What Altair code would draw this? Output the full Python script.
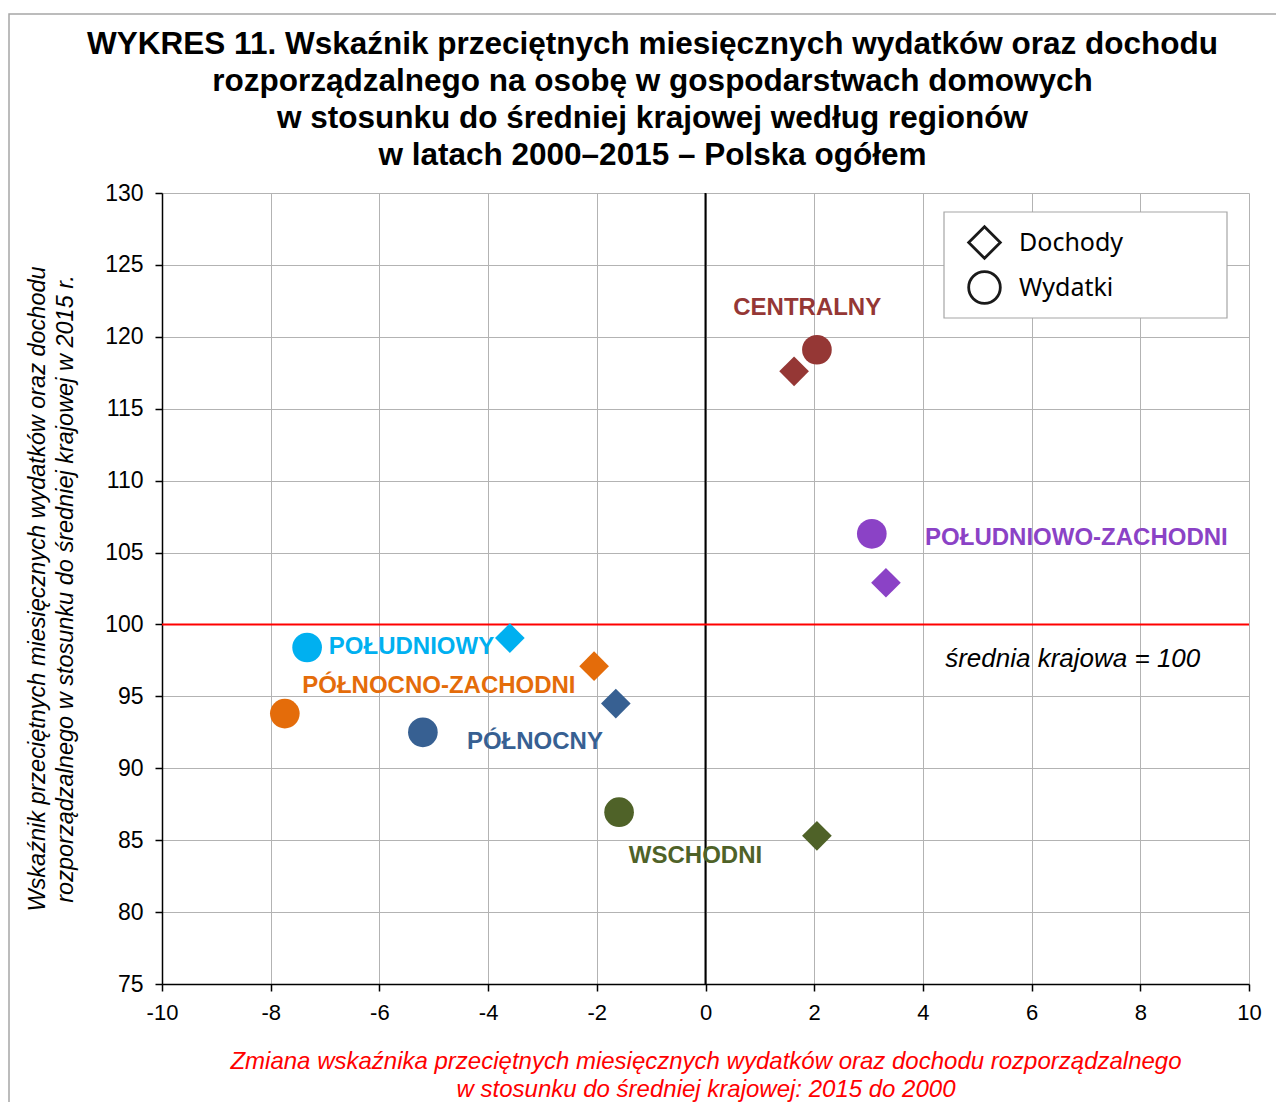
import altair as alt
import pandas as pd

regions = ["CENTRALNY", "POŁUDNIOWO-ZACHODNI", "POŁUDNIOWY",
           "PÓŁNOCNO-ZACHODNI", "PÓŁNOCNY", "WSCHODNI"]
colors = ["#953735", "#8B42C6", "#00B0F0", "#E46C0A", "#376092", "#4F6228"]

dochody_x = [1.63, 3.32, -3.60, -2.05, -1.65, 2.05]
dochody_y = [117.6, 102.9, 99.05, 97.1, 94.5, 85.3]
wydatki_x = [2.05, 3.06, -7.33, -7.74, -5.20, -1.59]
wydatki_y = [119.1, 106.3, 98.4, 93.8, 92.5, 86.95]

label_x = [0.51, 4.04, -6.93, -7.42, -4.39, -1.41]
label_y = [122.0, 106.0, 98.43, 95.72, 91.82, 83.9]

series = ["Dochody", "Wydatki"]
shapes = ["diamond", "circle"]

x_ticks = list(range(-10, 11, 2))
y_ticks = list(range(75, 131, 5))

title_lines = [
    "WYKRES 11. Wskaźnik przeciętnych miesięcznych wydatków oraz dochodu",
    "rozporządzalnego na osobę w gospodarstwach domowych",
    "w stosunku do średniej krajowej według regionów",
    "w latach 2000–2015 – Polska ogółem",
]
x_title = ["Zmiana wskaźnika przeciętnych miesięcznych wydatków oraz dochodu rozporządzalnego",
           "w stosunku do średniej krajowej: 2015 do 2000"]
y_title = ["Wskaźnik przeciętnych miesięcznych wydatków oraz dochodu",
           "rozporządzalnego w stosunku do średniej krajowej w 2015 r."]
avg_text = "średnia krajowa = 100"
avg_x, avg_y = 4.41, 97.6
zero_x = [0]
avg_line_y = [100]

rows = []
for i, r in enumerate(regions):
    rows.append({"region": r, "typ": "Dochody", "x": dochody_x[i], "y": dochody_y[i]})
    rows.append({"region": r, "typ": "Wydatki", "x": wydatki_x[i], "y": wydatki_y[i]})
pts = pd.DataFrame(rows)
labels = pd.DataFrame({"region": regions, "x": label_x, "y": label_y})

xscale = alt.Scale(domain=[-10, 10], nice=False, zero=False)
yscale = alt.Scale(domain=[75, 130], nice=False, zero=False)
cscale = alt.Scale(domain=regions, range=colors)

x_axis = alt.Axis(values=x_ticks, title=x_title, titleColor="red",
                  titleFontStyle="italic", titleFontWeight="normal",
                  titleFontSize=24, titleLineHeight=28, titlePadding=26,
                  labelPadding=11, labelExpr="'' + datum.value", labelFontSize=22,
                  labelFlush=False)
y_axis = alt.Axis(values=y_ticks, title=y_title, titleColor="black",
                  titleFontStyle="italic", titleFontWeight="normal",
                  titleFontSize=23.5, titleLineHeight=28, titlePadding=27,
                  labelPadding=12, labelFontSize=23, labelFlush=False)

X = alt.X("x:Q", scale=xscale, axis=x_axis)
Y = alt.Y("y:Q", scale=yscale, axis=y_axis)

one = pd.DataFrame({"a": [0]})
frame = alt.Chart(one).mark_rect(fillOpacity=0, stroke="#a6a6a6", strokeWidth=1.5).encode(
    x=alt.value(-153), x2=alt.value(2000), y=alt.value(-179), y2=alt.value(2000))
legend_box = alt.Chart(one).mark_rect(fill="white", stroke="#a6a6a6", strokeWidth=1.2).encode(
    x=alt.value(782), x2=alt.value(1065), y=alt.value(19), y2=alt.value(125))

zero_rule = alt.Chart(pd.DataFrame({"x": zero_x})).mark_rule(color="black", strokeWidth=2).encode(x=X)
red_rule = alt.Chart(pd.DataFrame({"y": avg_line_y})).mark_rule(color="#ff0000", strokeWidth=2).encode(y=Y)

points = alt.Chart(pts).mark_point(filled=True, opacity=1, size=880).encode(
    x=X, y=Y,
    color=alt.Color("region:N", scale=cscale, legend=None),
    shape=alt.Shape("typ:N", scale=alt.Scale(domain=series, range=shapes),
                    legend=alt.Legend(
                        title=None, orient="none", legendX=782, legendY=19,
                        padding=13,
                        symbolFillColor="white", symbolStrokeColor="#1a1a1a",
                        symbolStrokeWidth=2.8, symbolSize=1000, symbolOffset=10,
                        labelOffset=17, rowPadding=2, labelFont="Noto Sans",
                        labelFontSize=25, labelColor="black", labelLimit=400)),
)

texts = alt.Chart(labels).mark_text(align="left", baseline="middle", fontWeight="bold",
                                    fontSize=24, font="Liberation Sans").encode(
    x=X, y=Y,
    text="region:N", color=alt.Color("region:N", scale=cscale, legend=None))

avg = alt.Chart(pd.DataFrame({"x": [avg_x], "y": [avg_y], "t": [avg_text]})).mark_text(
    align="left", baseline="middle", fontStyle="italic", fontSize=26,
    font="Liberation Sans", color="black").encode(x=X, y=Y, text="t:N")

chart = alt.layer(frame, zero_rule, red_rule, legend_box, texts, avg, points).properties(
    width=1087, height=791,
    autosize=alt.AutoSizeParams(type="none"),
    padding={"left": 154, "top": 185, "right": 27, "bottom": 118},
    title=alt.TitleParams(text=title_lines, font="Liberation Sans", fontSize=31.5,
                          fontWeight="bold", anchor="middle", dx=-53, dy=178, offset=20,
                          lineHeight=37, color="black"),
).configure_view(stroke=None).configure_axis(
    labelFont="Liberation Sans", labelColor="black",
    titleFont="Liberation Sans", gridColor="#b3b3b3", gridWidth=1,
    domainColor="black", domainWidth=1.5, tickColor="black", tickSize=7, tickWidth=1.5,
)

chart.save("out.html", embed_options={"renderer": "svg", "actions": False})
